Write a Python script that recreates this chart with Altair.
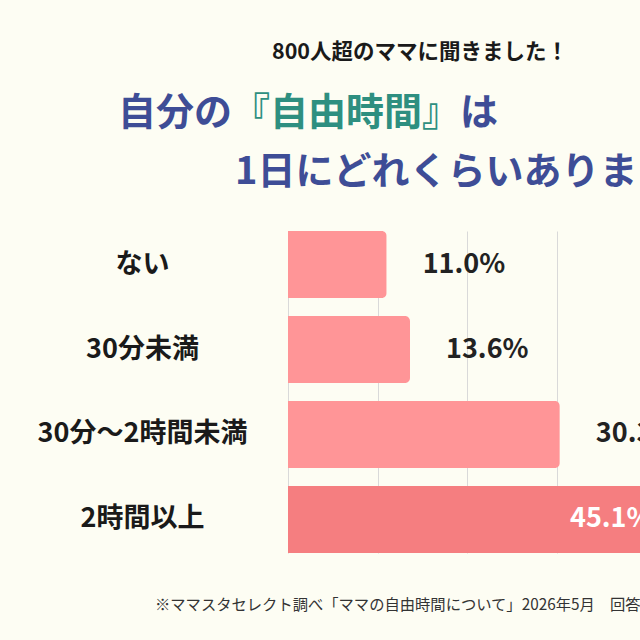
import altair as alt
import pandas as pd

# Survey answers: how much free time mothers have per day
categories = ["ない", "30分未満", "30分～2時間未満", "2時間以上"]
shares = [11.0, 13.6, 30.3, 45.1]

header = "800人超のママに聞きました！"
title_a = "自分の"
title_b = "『自由時間』"
title_c = "は"
title_line2 = "1日にどれくらいありますか？"
footnote = "※ママスタセレクト調べ「ママの自由時間について」2026年5月　回答"

FONT = "Noto Sans CJK JP"
BG = "#FDFDF3"
NAVY = "#3E4D96"
TEAL = "#2E8F80"
PINK = "#FF9597"
PINK_DARK = "#F57E80"

df = pd.DataFrame({"category": categories, "share": shares})
df["label"] = [f"{v:.1f}%" for v in shares]
top_share = max(shares)

x_enc = alt.X(
    "share:Q",
    scale=alt.Scale(domain=[0, 39.24], nice=False, zero=True),
    axis=alt.Axis(values=[0, 10, 20, 30], grid=True, gridColor="#d9d9d9",
                  gridWidth=1, labels=False, ticks=False, domain=False, title=None),
)
y_enc = alt.Y(
    "category:N",
    sort=categories,
    scale=alt.Scale(paddingInner=0.21, paddingOuter=0),
    axis=alt.Axis(title=None, ticks=False, domain=False, labelFont=FONT,
                  labelFontSize=27, labelFontWeight="bold", labelColor="#1a1a1a",
                  labelAlign="center", labelPadding=146, labelLimit=0),
)

bars = alt.Chart(df).mark_bar(cornerRadiusEnd=5).encode(
    x=x_enc,
    y=y_enc,
    color=alt.condition(alt.datum.share == top_share, alt.value(PINK_DARK), alt.value(PINK)),
)

outside_labels = alt.Chart(df).transform_filter(alt.datum.share < top_share).mark_text(
    align="left", baseline="middle", dx=36, font=FONT, fontSize=27,
    fontWeight="bold", color="#222222",
).encode(x="share:Q", y=alt.Y("category:N", sort=categories), text="label:N")

inside_labels = alt.Chart(df).transform_filter(alt.datum.share == top_share).mark_text(
    align="right", baseline="middle", dx=-40, font=FONT, fontSize=27,
    fontWeight="bold", color="#FFFFFF",
).encode(x="share:Q", y=alt.Y("category:N", sort=categories), text="label:N")


def caption(text, x, y, size, color, weight="bold", align="left"):
    return alt.Chart(pd.DataFrame({"t": [text]})).mark_text(
        align=align, baseline="middle", font=FONT, fontSize=size,
        fontWeight=weight, color=color,
    ).encode(text="t:N", x=alt.value(x), y=alt.value(y))


texts = [
    caption(header, 132, -178, 21.5, "#1a1a1a", align="center"),
    caption(title_a, -170, -117, 38, NAVY),
    caption(title_b, -56, -117, 38, TEAL),
    caption(title_c, 172, -117, 38, NAVY),
    caption(title_line2, -53, -58, 38, NAVY),
    caption(footnote, -133, 374, 15.3, "#333333", weight="normal"),
]

chart = alt.layer(bars, outside_labels, inside_labels, *texts).properties(
    width=352,
    height=322,
    autosize=alt.AutoSizeParams(type="none"),
    padding={"left": 288, "top": 231, "right": 0, "bottom": 87},
    background=BG,
).configure_view(stroke=None)

chart.save("out.html", embed_options={"renderer": "svg", "actions": False})
